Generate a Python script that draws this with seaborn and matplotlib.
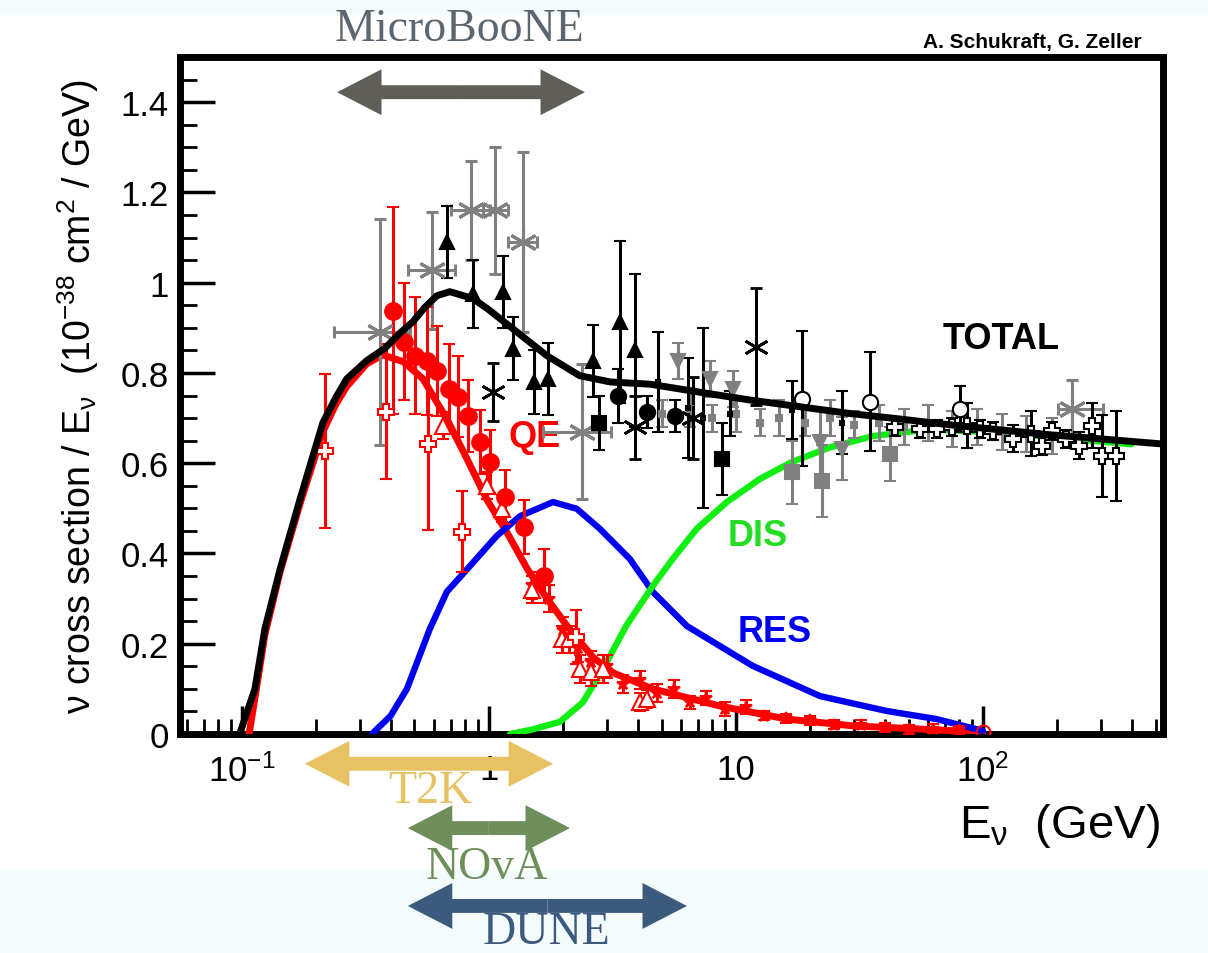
import numpy as np
import matplotlib
matplotlib.use('Agg')
import matplotlib.pyplot as plt
import matplotlib.transforms as mtransforms
from matplotlib.patches import ArrowStyle, Rectangle
from matplotlib.ticker import FixedLocator, LogLocator, MultipleLocator, NullFormatter
import seaborn as sns

# ---- model curves (E in GeV, sigma/E in 1e-38 cm^2/GeV) ----
total_E = [0.098, 0.113, 0.124, 0.143, 0.172, 0.194, 0.213, 0.24, 0.266, 0.32, 0.38, 0.44,
           0.492, 0.55, 0.616, 0.695, 0.861, 1.0, 1.25, 1.72, 2.33, 3.1, 4.5, 7.2, 11.4,
           18.2, 29, 46, 73.5, 117, 187, 298, 521]
total_xs = [0, 0.10, 0.233, 0.366, 0.52, 0.616, 0.69, 0.745, 0.787, 0.827, 0.855, 0.89,
            0.913, 0.945, 0.971, 0.98, 0.965, 0.94, 0.898, 0.838, 0.794, 0.78, 0.775, 0.757,
            0.74, 0.725, 0.71, 0.698, 0.685, 0.674, 0.663, 0.654, 0.643]

qe_E = [0.107, 0.113, 0.124, 0.143, 0.172, 0.194, 0.213, 0.24, 0.266, 0.32, 0.372, 0.45,
        0.541, 0.676, 0.815, 0.98, 1.18, 1.43, 1.72, 2.07, 2.64, 3.2, 4.61, 8.61, 16.1,
        29.8, 55.6, 100]
qe_xs = [0, 0.08, 0.22, 0.36, 0.51, 0.60, 0.67, 0.73, 0.77, 0.82, 0.84, 0.825, 0.787,
         0.698, 0.61, 0.52, 0.448, 0.366, 0.30, 0.24, 0.17, 0.135, 0.10, 0.062, 0.033,
         0.018, 0.011, 0.004]

res_E = [0.336, 0.40, 0.466, 0.577, 0.676, 0.838, 1.077, 1.34, 1.82, 2.27, 2.81, 3.72,
         4.61, 6.34, 11.7, 21.9, 40.8, 65.1, 100]
res_xs = [0, 0.04, 0.10, 0.233, 0.315, 0.372, 0.439, 0.483, 0.514, 0.499, 0.455, 0.388,
          0.315, 0.239, 0.151, 0.084, 0.051, 0.033, 0.007]

dis_E = [1.22, 1.5, 1.94, 2.4, 2.9, 3.6, 4.61, 5.55, 6.95, 9.2, 12.5, 16.9, 24, 35.8,
         60, 120, 250, 400]
dis_xs = [0, 0.01, 0.027, 0.07, 0.144, 0.24, 0.328, 0.388, 0.455, 0.514, 0.565, 0.603,
          0.635, 0.66, 0.675, 0.668, 0.652, 0.642]

# ---- QE data (red) ----
qe_circ_E = [0.408, 0.453, 0.502, 0.56, 0.616, 0.69, 0.75, 0.82, 0.92, 1.01, 1.16, 1.39, 1.68]
qe_circ_v = [0.938, 0.869, 0.838, 0.827, 0.805, 0.765, 0.747, 0.705, 0.647, 0.603, 0.525, 0.459, 0.35]
qe_circ_err = [0.23, 0.13, 0.13, 0.12, 0.10, 0.10, 0.09, 0.08, 0.07, 0.07, 0.06, 0.06, 0.06]

qe_cross_E = [0.217, 0.383, 0.565, 0.78, 2.26]
qe_cross_v = [0.627, 0.714, 0.643, 0.448, 0.215]
qe_cross_err = [0.17, 0.15, 0.19, 0.09, 0.06]

qe_otri_E = [0.65, 0.98, 1.13, 1.5, 1.98, 2.12, 2.33, 2.6, 2.9, 4.08, 4.37]
qe_otri_v = [0.683, 0.55, 0.499, 0.32, 0.21, 0.21, 0.144, 0.137, 0.144, 0.071, 0.078]
qe_otri_err = [0.03, 0.03, 0.03, 0.03, 0.03, 0.03, 0.03, 0.03, 0.03, 0.02, 0.02]

qe_small_E = [1.5, 1.75, 2.0, 2.3, 2.6, 3.0, 3.5, 4.1, 4.8, 5.6, 6.5, 7.6, 9.0, 11, 13,
              16, 20, 25, 32, 40, 50, 63, 80]
qe_small_v = [0.33, 0.30, 0.23, 0.19, 0.16, 0.15, 0.11, 0.12, 0.09, 0.10, 0.07, 0.08, 0.055,
              0.06, 0.04, 0.035, 0.03, 0.02, 0.02, 0.015, 0.01, 0.012, 0.008]
qe_small_err = [0.03, 0.03, 0.03, 0.03, 0.025, 0.025, 0.02, 0.02, 0.02, 0.02, 0.015, 0.015,
                0.015, 0.015, 0.01, 0.01, 0.01, 0.01, 0.01, 0.01, 0.01, 0.01, 0.01]

qe_end_E = [100]
qe_end_v = [0.004]

# ---- total data (black) ----
tri_E = [0.676, 0.86, 1.14, 1.25, 1.53, 1.74, 2.65, 3.4, 3.9]
tri_v = [1.09, 0.975, 0.98, 0.854, 0.78, 0.787, 0.827, 0.913, 0.85]
tri_err = [0.08, 0.075, 0.08, 0.07, 0.07, 0.08, 0.08, 0.18, 0.17]

star_E = [1.04, 3.9, 6.7, 12.1]
star_v = [0.758, 0.68, 0.70, 0.858]
star_err = [0.065, 0.07, 0.09, 0.13]

bcirc_E = [3.33, 4.37, 5.66]
bcirc_v = [0.749, 0.714, 0.705]
bcirc_err = [0.06, 0.035, 0.035]

bsq_E = [2.8, 8.77]
bsq_v = [0.69, 0.61]
bsq_err = [0.06, 0.08]

bbar_E = [4.83, 6.4, 7.35, 9.46, 16.9, 26.9]
bbar_v = [0.78, 0.722, 0.70, 0.71, 0.718, 0.69]
bbar_err = [0.11, 0.11, 0.2, 0.05, 0.065, 0.07]

bocirc_E = [18.6, 34.8, 80.8]
bocirc_v = [0.743, 0.736, 0.72]
bocirc_err = [0.15, 0.11, 0.05]

bocross_E = [44, 55.6, 65, 75, 86, 97, 110, 132, 156, 173, 190, 217, 245, 276, 303, 345]
bocross_v = [0.68, 0.676, 0.676, 0.68, 0.683, 0.676, 0.672, 0.654, 0.665, 0.639, 0.672,
             0.654, 0.639, 0.683, 0.616, 0.616]
bocross_err = [0.02, 0.02, 0.02, 0.02, 0.05, 0.02, 0.02, 0.03, 0.05, 0.02, 0.02, 0.02,
               0.03, 0.05, 0.09, 0.1]

# ---- total data (gray) ----
gstar_E = [0.362, 0.587, 0.85, 1.06, 1.37, 2.38, 229]
gstar_lo = [0.237, 0.47, 0.70, 0.95, 1.19, 1.66, 201]
gstar_hi = [0.479, 0.73, 1.01, 1.20, 1.56, 3.13, 306]
gstar_v = [0.89, 1.027, 1.16, 1.16, 1.09, 0.67, 0.72]
gstar_err = [0.25, 0.13, 0.11, 0.14, 0.2, 0.15, 0.065]

gtri_E = [5.82, 7.85, 9.7, 22, 27]
gtri_v = [0.827, 0.787, 0.765, 0.647, 0.632]
gtri_err = [0.04, 0.04, 0.04, 0.07, 0.07]

gsq_E = [16.9, 22.4, 42]
gsq_v = [0.58, 0.561, 0.62]
gsq_err = [0.07, 0.08, 0.06]

gpt_E = [5, 6.5, 8, 10, 12.5, 15, 19, 24, 30, 38, 48, 60, 75, 95, 120, 150, 190]
gpt_v = [0.71, 0.72, 0.70, 0.71, 0.69, 0.70, 0.69, 0.70, 0.685, 0.69, 0.68, 0.69, 0.675,
         0.68, 0.67, 0.665, 0.66]
gpt_err = [0.03, 0.04, 0.03, 0.04, 0.03, 0.04, 0.03, 0.04, 0.03, 0.04, 0.04, 0.04, 0.04,
           0.04, 0.04, 0.04, 0.04]

# ---- experiment energy ranges ----
exp_names = ['MicroBooNE', 'T2K', 'NOvA', 'DUNE']
exp_lo = [0.243, 0.18, 0.47, 0.47]
exp_hi = [2.45, 1.82, 2.13, 6.34]
exp_colors = ['#5f5f58', '#e8c262', '#6e8f5c', '#3c5a7e']
exp_text_colors = ['#5b6670', '#e8c262', '#6e8f5c', '#3c5a7e']

sns.set_theme(style='ticks')
plt.rcParams['font.family'] = ['Liberation Sans', 'DejaVu Sans']
plt.rcParams['mathtext.default'] = 'regular'

W, H = 1208, 954
fig = plt.figure(figsize=(W / 100, H / 100), dpi=100)
fig.patch.set_facecolor('white')
fig.patches.append(Rectangle((0, 1 - 15 / H), 1, 15 / H, transform=fig.transFigure,
                             color='#f4fbfd', zorder=-1))
fig.patches.append(Rectangle((0, 0), 1, 1 - 871 / H, transform=fig.transFigure,
                             color='#f4fbfd', zorder=-1))

ax = fig.add_axes([180 / W, 1 - 735 / H, (1163 - 180) / W, (735 - 58) / H])
ax.set_facecolor('white')
ax.set_xscale('log')

# curves
sns.lineplot(x=qe_E, y=qe_xs, ax=ax, color='#ff0000', linewidth=5, zorder=3, sort=False)
sns.lineplot(x=res_E, y=res_xs, ax=ax, color='#0000f0', linewidth=4.6, zorder=3, sort=False)
sns.lineplot(x=dis_E, y=dis_xs, ax=ax, color='#11ee11', linewidth=4.6, zorder=3, sort=False)
sns.lineplot(x=total_E, y=total_xs, ax=ax, color='black', linewidth=5, zorder=5, sort=False)


def points(E, v, err, marker, color, ms, mfc=None, xerr=None, mew=1.5, z=4):
    ax.errorbar(E, v, yerr=err, xerr=xerr, fmt='', marker=marker, linestyle='none',
                color=color, ms=ms, mfc=color if mfc is None else mfc, mec=color, mew=mew,
                elinewidth=2.2, capsize=4, capthick=2.2, zorder=z)


asterisk = (6, 2, 0)

# gray data
points(gpt_E, gpt_v, gpt_err, 's', '#808080', 4)
gx = [np.subtract(gstar_E, gstar_lo), np.subtract(gstar_hi, gstar_E)]
points(gstar_E, gstar_v, gstar_err, asterisk, '#808080', 20, xerr=gx, mew=2.2)
points(gtri_E, gtri_v, gtri_err, 'v', '#808080', 10)
points(gsq_E, gsq_v, gsq_err, 's', '#808080', 10)

# black data
points(bbar_E, bbar_v, bbar_err, 's', 'black', 3)
points(tri_E, tri_v, tri_err, '^', 'black', 10)
points(star_E, star_v, star_err, asterisk, 'black', 18, mew=2)
points(bcirc_E, bcirc_v, bcirc_err, 'o', 'black', 11)
points(bsq_E, bsq_v, bsq_err, 's', 'black', 10)
points(bocirc_E, bocirc_v, bocirc_err, 'o', 'black', 11, mfc='white')
points(bocross_E, bocross_v, bocross_err, 'P', 'black', 12, mfc='white')

# red QE data
points(qe_small_E, qe_small_v, qe_small_err, '*', '#ff0000', 9)
points(qe_otri_E, qe_otri_v, qe_otri_err, '^', '#ff0000', 11, mfc='white')
points(qe_cross_E, qe_cross_v, qe_cross_err, 'P', '#ff0000', 12, mfc='white')
points(qe_circ_E, qe_circ_v, qe_circ_err, 'o', '#ff0000', 12)
points(qe_end_E, qe_end_v, None, 'o', '#ff0000', 10, mfc='none')

# axes styling
ax.set_xlim(0.0562, 536)
ax.set_ylim(0, 1.5)
for s in ax.spines.values():
    s.set_visible(True)
    s.set_linewidth(5)
    s.set_color('black')
ax.xaxis.set_major_locator(FixedLocator([0.1, 1, 10, 100]))
ax.set_xticklabels(['$10^{-1}$', '1', '10', '$10^{2}$'])
ax.xaxis.set_minor_locator(LogLocator(base=10, subs=np.arange(2, 10)))
ax.xaxis.set_minor_formatter(NullFormatter())
ax.yaxis.set_major_locator(FixedLocator([0, 0.2, 0.4, 0.6, 0.8, 1.0, 1.2, 1.4]))
ax.set_yticklabels(['0', '0.2', '0.4', '0.6', '0.8', '1', '1.2', '1.4'])
ax.yaxis.set_minor_locator(MultipleLocator(0.05))
ax.tick_params(axis='both', which='both', direction='in', color='black',
               top=False, right=False, labelsize=25, labelcolor='black')
ax.tick_params(axis='y', which='major', length=25, width=2.5, pad=8)
ax.tick_params(axis='y', which='minor', length=12, width=2)
ax.tick_params(axis='x', which='major', length=20, width=2.5, pad=14)
ax.tick_params(axis='x', which='minor', length=11, width=2)
ax.grid(False)

ax.set_ylabel('ν cross section / E$_{ν}$  (10$^{-38}$ cm$^{2}$ / GeV)', fontsize=27,
              color='black', labelpad=14)
fig.text(1160 / W, 1 - 838 / H, 'E$_{ν}$  (GeV)', ha='right', va='baseline',
         fontsize=34, color='black')
fig.text(1142 / W, 1 - 48 / H, 'A. Schukraft, G. Zeller', ha='right', va='baseline',
         fontsize=15, weight='bold', color='black')

# curve labels
ax.text(1.53, 0.66, 'QE', color='#ff0000', fontsize=26, weight='bold', ha='center', va='center')
ax.text(14.4, 0.228, 'RES', color='#0000f0', fontsize=26, weight='bold', ha='center', va='center')
ax.text(12.2, 0.44, 'DIS', color='#22dd22', fontsize=26, weight='bold', ha='center', va='center')
ax.text(119, 0.876, 'TOTAL', color='black', fontsize=26, weight='bold', ha='center', va='center')

# experiment range arrows (x in GeV, y in axes fraction)
trans = mtransforms.blended_transform_factory(ax.transData, ax.transAxes)
arrow_y = [0.948, -0.044, -0.139, -0.254]
text_pos = [(460, 30), (430, 792), (487, 868), (546, 933)]
style = ArrowStyle.Simple(head_length=32, head_width=33, tail_width=10)
for name, lo, hi, c, tc, y, (tx, ty) in zip(exp_names, exp_lo, exp_hi, exp_colors,
                                            exp_text_colors, arrow_y, text_pos):
    mid = np.sqrt(lo * hi)
    for end in (lo, hi):
        ax.annotate('', xy=(end, y), xytext=(mid, y), xycoords=trans, textcoords=trans,
                    annotation_clip=False, zorder=6,
                    arrowprops=dict(arrowstyle=style, mutation_scale=1, fc=c, ec='none',
                                    lw=0, shrinkA=0, shrinkB=0))
    fig.text(tx / W, 1 - ty / H, name, ha='center', va='center', fontsize=33,
             family=['Liberation Serif', 'DejaVu Serif'], color=tc, zorder=7)

fig.savefig('out.png', dpi=100, facecolor='white')
